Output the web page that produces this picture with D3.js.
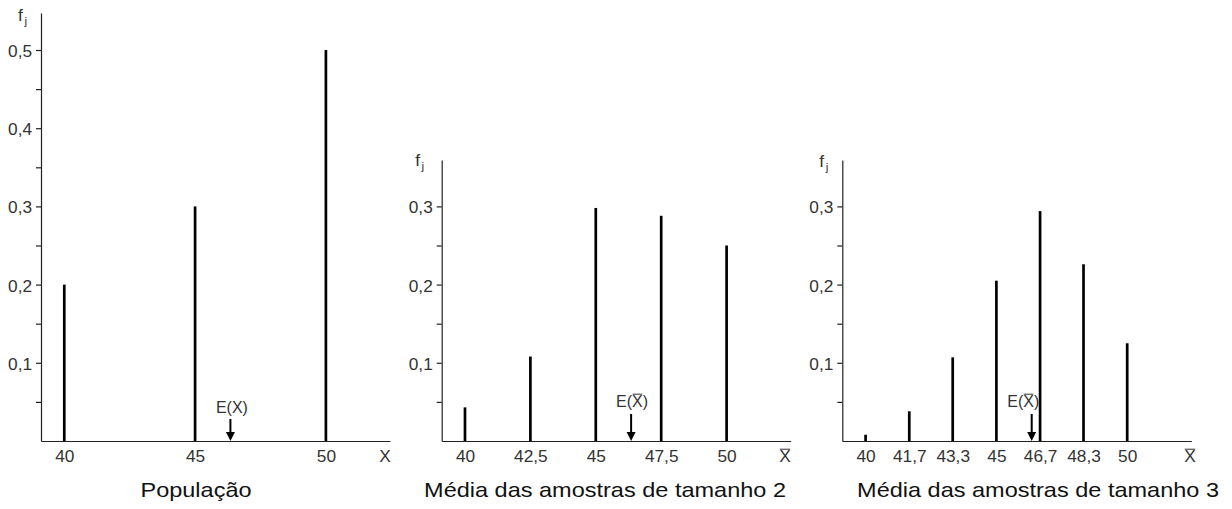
<!DOCTYPE html>
<html><head><meta charset="utf-8">
<script src="https://cdn.jsdelivr.net/npm/d3@7"></script>
<style>
body{margin:0;background:#fff}
text{font-family:"Liberation Sans",Arial,sans-serif}
</style>
</head><body>
<svg id="c" width="1232" height="509"></svg>
<script>
// ---------------- data ----------------
const popValues = [40, 45, 50];
const popFreq = [0.2, 0.3, 0.5];
const popTickLabels = ["40", "45", "50"];

const n2Values = [40, 42.5, 45, 47.5, 50];
const n2Freq = [0.043, 0.108, 0.298, 0.288, 0.25];
const n2TickLabels = ["40", "42,5", "45", "47,5", "50"];

const n3Values = [40, 41.67, 43.33, 45, 46.67, 48.33, 50];
const n3Freq = [0.008, 0.038, 0.107, 0.205, 0.294, 0.226, 0.125];
const n3TickLabels = ["40", "41,7", "43,3", "45", "46,7", "48,3", "50"];

const expectedValues = [46.35, 46.35, 46.35];
const yTicksPop = [0.05, 0.1, 0.15, 0.2, 0.25, 0.3, 0.35, 0.4, 0.45, 0.5];
const yTicksSample = [0.05, 0.1, 0.15, 0.2, 0.25, 0.3];
const titles = ["População", "Média das amostras de tamanho 2", "Média das amostras de tamanho 3"];
const xAxisLabels = ["X", "X", "X"];
const xAxisOverline = [false, true, true];
const eLabels = ["E(X)", "E(X)", "E(X)"];
const xDomain = [39.11, 52.45];

// ---------------- layout ----------------
const AXIS_W = 349, BASE_Y = 441;
const TICK_FS = 16, TICK_SX = 1.08;
const TXT = "#333";
const layout = [
  {x0: 41,    top: 13,  titleX: 196,  fjDx: -23,   fjY: 21,  eTop: 419, eLabY: 413, eLabDx: 1.5, xLabX: 385},
  {x0: 441.7, top: 160, titleX: 605,  fjDx: -26.5, fjY: 166, eTop: 414, eLabY: 407, eLabDx: 1,   xLabX: 785},
  {x0: 842.3, top: 160, titleX: 1038, fjDx: -23,   fjY: 167, eTop: 414, eLabY: 407, eLabDx: -8.5, xLabX: 1190}
];

const panels = [
  {values: popValues, freq: popFreq, labels: popTickLabels, yTicks: yTicksPop},
  {values: n2Values, freq: n2Freq, labels: n2TickLabels, yTicks: yTicksSample},
  {values: n3Values, freq: n3Freq, labels: n3TickLabels, yTicks: yTicksSample}
];

const svg = d3.select("#c");
const loc = d3.formatLocale({decimal: ",", thousands: ".", grouping: [3], currency: ["", ""]});
const fmtY = loc.format(".1f");
const isTenth = t => Math.abs(t * 10 - Math.round(t * 10)) < 1e-6;
const yBase = d3.scaleLinear().domain([0, 0.5]).range([BASE_Y, 50]);

function stretchText(parent, x, y, str, size, sx, anchor, fill, overIdx) {
  const gg = parent.append("g").attr("transform", `translate(${x},${y}) scale(${sx},1)`);
  const t = gg.append("text").attr("text-anchor", anchor).attr("font-size", size)
    .attr("fill", fill).text(str);
  if (overIdx != null) {
    const b = t.node().getExtentOfChar(overIdx);
    gg.append("line").attr("x1", b.x + 0.5).attr("x2", b.x + b.width - 0.5)
      .attr("y1", -size * 0.8).attr("y2", -size * 0.8)
      .attr("stroke", fill).attr("stroke-width", 1);
  }
  return gg;
}

panels.forEach((p, i) => {
  const L = layout[i];
  const g = svg.append("g");
  const x = d3.scaleLinear().domain(xDomain).range([L.x0, L.x0 + AXIS_W]);
  const y = d3.scaleLinear().domain([0, yBase.invert(L.top)]).range([BASE_Y, L.top]);

  // y axis
  const ya = g.append("g").attr("transform", `translate(${L.x0},0)`)
    .call(d3.axisLeft(y).tickValues(p.yTicks).tickSize(5).tickSizeOuter(0).tickPadding(3.3)
      .tickFormat(t => isTenth(t) ? fmtY(t) : ""));
  ya.attr("font-family", null);
  ya.selectAll("path,line").attr("stroke", "#222").attr("stroke-width", 1.2);
  ya.selectAll("text").attr("font-size", TICK_FS).attr("fill", TXT)
    .attr("transform", `scale(${TICK_SX},1)`).attr("dy", "0.4em");

  // x axis
  const xa = g.append("g").attr("transform", `translate(0,${BASE_Y})`)
    .call(d3.axisBottom(x).tickValues(p.values).tickFormat((d, j) => p.labels[j])
      .tickSize(0).tickSizeOuter(0).tickPadding(10));
  xa.attr("font-family", null);
  xa.select(".domain").attr("stroke", "#222").attr("stroke-width", 1.2);
  xa.selectAll(".tick line").remove();
  xa.selectAll("text").attr("font-size", TICK_FS).attr("fill", TXT)
    .attr("transform", `scale(${TICK_SX},1)`);

  // bars
  g.selectAll("line.bar").data(p.values.map((v, j) => ({v, f: p.freq[j]}))).join("line")
    .attr("class", "bar")
    .attr("x1", d => x(d.v)).attr("x2", d => x(d.v))
    .attr("y1", y(0)).attr("y2", d => y(d.f))
    .attr("stroke", "#000").attr("stroke-width", 2.7);

  // f_j label
  const fj = g.append("g").attr("transform", `translate(${L.x0 + L.fjDx},${L.fjY}) scale(${TICK_SX},1)`);
  const ft = fj.append("text").attr("font-size", 16).attr("fill", TXT).text("f");
  ft.append("tspan").attr("font-size", 11).attr("dx", 1.5).attr("dy", 4).text("j");

  // x axis label
  stretchText(g, L.xLabX, 462, xAxisLabels[i], TICK_FS, TICK_SX, "middle", TXT,
    xAxisOverline[i] ? 0 : null);

  // expected value arrow
  const ex = x(expectedValues[i]);
  g.append("line").attr("x1", ex).attr("x2", ex).attr("y1", L.eTop).attr("y2", BASE_Y - 8)
    .attr("stroke", "#000").attr("stroke-width", 2);
  g.append("path").attr("d", `M${ex - 4.5},${BASE_Y - 9}L${ex + 4.5},${BASE_Y - 9}L${ex},${BASE_Y}Z`)
    .attr("fill", "#000");
  stretchText(g, ex + L.eLabDx, L.eLabY, eLabels[i], 16, 1.0, "middle", TXT,
    xAxisOverline[i] ? 2 : null);

  // title
  stretchText(g, L.titleX, 497, titles[i], 21, 1.12, "middle", "#111", null);
});
</script>
</body></html>
